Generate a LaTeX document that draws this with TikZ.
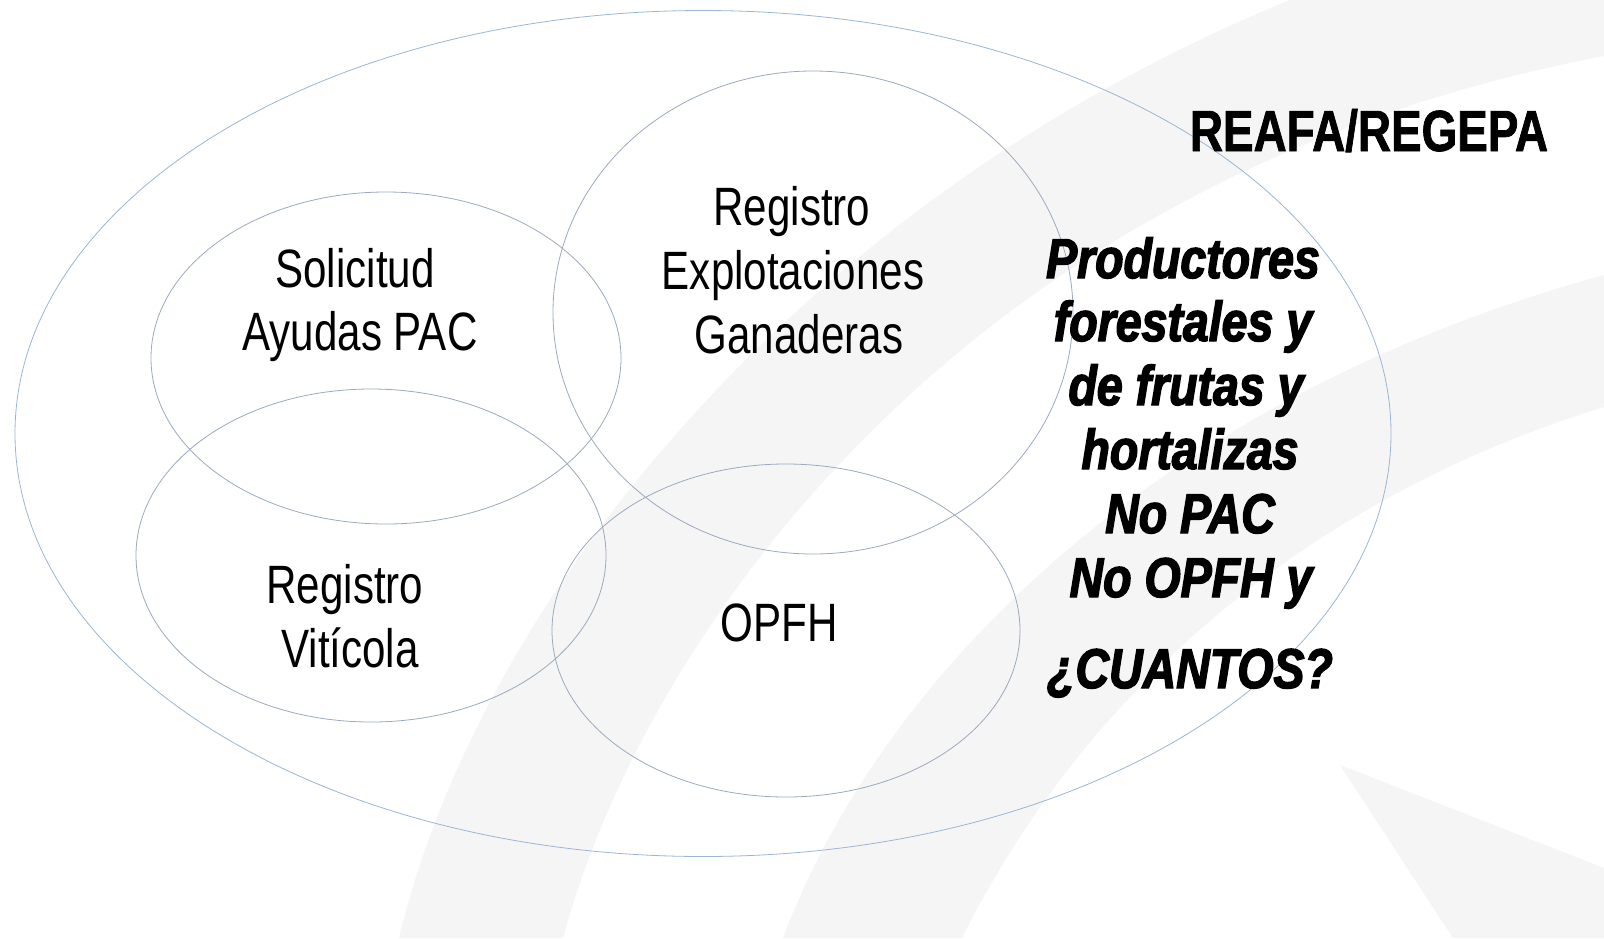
\documentclass[tikz,border=0pt]{standalone}
\usepackage{fontspec}
\newfontfamily\condfont[FakeStretch=0.78]{Liberation Sans}
\newfontfamily\boldcond[FakeStretch=0.79,FakeBold=1.2]{Liberation Sans}
\newfontfamily\blackital[FakeStretch=0.83,FakeBold=2.5]{Liberation Sans}
\definecolor{band}{RGB}{245,245,245}
\definecolor{ring}{RGB}{155,170,190}
\definecolor{outerring}{RGB}{155,182,212}
\begin{document}
\begin{tikzpicture}[x=1pt,y=-1pt,
  venn/.style={draw=ring, line width=0.8pt},
  outervenn/.style={draw=outerring, line width=0.8pt},
  lbl/.style={inner sep=0pt, anchor=base, text=black, font=\condfont\fontsize{54}{60}\selectfont},
  title/.style={inner sep=0pt, anchor=base, text=black, font=\boldcond\bfseries\fontsize{58}{60}\selectfont},
  emph/.style={inner sep=0pt, anchor=base, text=black, font=\blackital\bfseries\itshape\fontsize{56}{60}\selectfont}]
\useasboundingbox (0,0) rectangle (1604,938);
\fill[white] (0,0) rectangle (1604,938);
% background swooshes
\fill[band] (399,938) .. controls (480,600) and (800,200) .. (1290,0)
  -- (1604,0) -- (1604,56)
  .. controls (950,180) and (640,650) .. (563,938) -- cycle;
\fill[band] (783,938) .. controls (880,680) and (1150,400) .. (1604,275)
  -- (1604,407) .. controls (1300,500) and (1080,700) .. (962,938) -- cycle;
\fill[band] (1340,765) -- (1604,868) -- (1604,938) -- (1453,938) -- cycle;
% ellipses
\draw[outervenn] (703,433.5) ellipse [x radius=688pt, y radius=423pt];
\draw[venn] (386,358) ellipse [x radius=235pt, y radius=166pt];
\draw[venn] (813,312.5) ellipse [x radius=260pt, y radius=241.5pt];
\draw[venn] (371,555.5) ellipse [x radius=235pt, y radius=166.5pt];
\draw[venn] (786,630.5) ellipse [x radius=234pt, y radius=166.5pt];
% labels
\node[lbl] (sol1) at (355,287) {Solicitud};
\node[lbl] (sol2) at (360,350) {Ayudas PAC};
\node[lbl] (reg1) at (792,225) {Registro};
\node[lbl] (reg2) at (793,289) {Explotaciones};
\node[lbl] (reg3) at (799,353) {Ganaderas};
\node[lbl] (vit1) at (345,603) {Registro};
\node[lbl] (vit2) at (350,667) {Vitícola};
\node[lbl] (opfh) at (779,641) {OPFH};
\node[title] (reafa) at (1369,151) {REAFA/REGEPA};
\node[emph] (p1) at (1183,278) {Productores};
\node[emph] (p2) at (1183,341) {forestales y};
\node[emph] (p3) at (1186,405) {de frutas y};
\node[emph] (p4) at (1190,469) {hortalizas};
\node[emph] (p5) at (1190,533) {No PAC};
\node[emph] (p6) at (1191,597) {No OPFH y};
\node[emph] (p7) at (1190,688) {¿CUANTOS?};
\end{tikzpicture}
\end{document}
